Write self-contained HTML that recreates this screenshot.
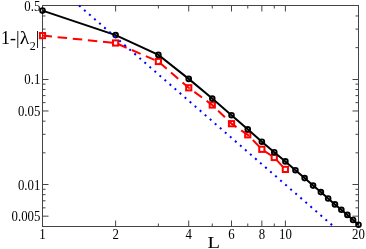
<!DOCTYPE html>
<html><head><meta charset="utf-8"><title>plot</title>
<style>html,body{margin:0;padding:0;background:#fff;}body{width:366px;height:249px;position:relative;overflow:hidden;font-family:"Liberation Serif",serif;}</style></head>
<body>
<svg width="366" height="249" viewBox="0 0 366 249" style="position:absolute;left:0;top:0;will-change:transform;opacity:0.999">
<rect x="0" y="0" width="366" height="249" fill="#fff"/>
<g stroke="#444" stroke-width="1" fill="none" shape-rendering="crispEdges">
<rect x="42.5" y="5.5" width="316.0" height="221.0"/>
</g>
<g stroke="#444" stroke-width="1" fill="none">
<path d="M115.62 226.5 v-6 M115.62 5.5 v6"/>
<path d="M158.39 226.5 v-3 M158.39 5.5 v3"/>
<path d="M188.73 226.5 v-6 M188.73 5.5 v6"/>
<path d="M212.27 226.5 v-3 M212.27 5.5 v3"/>
<path d="M231.50 226.5 v-6 M231.50 5.5 v6"/>
<path d="M247.76 226.5 v-3 M247.76 5.5 v3"/>
<path d="M261.85 226.5 v-6 M261.85 5.5 v6"/>
<path d="M274.27 226.5 v-3 M274.27 5.5 v3"/>
<path d="M285.38 226.5 v-6 M285.38 5.5 v6"/>
<path d="M42.5 15.96 h3 M358.5 15.96 h-3"/>
<path d="M42.5 29.11 h3 M358.5 29.11 h-3"/>
<path d="M42.5 47.63 h3 M358.5 47.63 h-3"/>
<path d="M42.5 79.50 h6 M358.5 79.50 h-6"/>
<path d="M42.5 84.11 h3 M358.5 84.11 h-3"/>
<path d="M42.5 89.49 h3 M358.5 89.49 h-3"/>
<path d="M42.5 95.60 h3 M358.5 95.60 h-3"/>
<path d="M42.5 102.64 h3 M358.5 102.64 h-3"/>
<path d="M42.5 110.97 h6 M358.5 110.97 h-6"/>
<path d="M42.5 121.16 h3 M358.5 121.16 h-3"/>
<path d="M42.5 134.31 h3 M358.5 134.31 h-3"/>
<path d="M42.5 152.83 h3 M358.5 152.83 h-3"/>
<path d="M42.5 184.50 h6 M358.5 184.50 h-6"/>
<path d="M42.5 189.31 h3 M358.5 189.31 h-3"/>
<path d="M42.5 194.69 h3 M358.5 194.69 h-3"/>
<path d="M42.5 200.80 h3 M358.5 200.80 h-3"/>
<path d="M42.5 207.84 h3 M358.5 207.84 h-3"/>
<path d="M42.5 216.17 h6 M358.5 216.17 h-6"/>
</g>
<clipPath id="c"><rect x="38.5" y="5.0" width="324.0" height="225.0"/></clipPath>
<polyline points="42.50,35.6 115.62,43.0 158.39,61.5 188.73,87.8 212.27,105.0 231.50,123.7 247.76,134.8 261.85,149.3 274.27,157.5 285.38,169.4" fill="none" stroke="#f00" stroke-width="2" stroke-dasharray="9.5 5.7" stroke-dashoffset="0"/>
<rect x="39.90" y="33.00" width="5.2" height="5.2" fill="none" stroke="#f00" stroke-width="2"/>
<rect x="113.02" y="40.40" width="5.2" height="5.2" fill="none" stroke="#f00" stroke-width="2"/>
<rect x="155.79" y="58.90" width="5.2" height="5.2" fill="none" stroke="#f00" stroke-width="2"/>
<rect x="186.13" y="85.20" width="5.2" height="5.2" fill="none" stroke="#f00" stroke-width="2"/>
<rect x="209.67" y="102.40" width="5.2" height="5.2" fill="none" stroke="#f00" stroke-width="2"/>
<rect x="228.90" y="121.10" width="5.2" height="5.2" fill="none" stroke="#f00" stroke-width="2"/>
<rect x="245.16" y="132.20" width="5.2" height="5.2" fill="none" stroke="#f00" stroke-width="2"/>
<rect x="259.25" y="146.70" width="5.2" height="5.2" fill="none" stroke="#f00" stroke-width="2"/>
<rect x="271.67" y="154.90" width="5.2" height="5.2" fill="none" stroke="#f00" stroke-width="2"/>
<rect x="282.78" y="166.80" width="5.2" height="5.2" fill="none" stroke="#f00" stroke-width="2"/>
<polyline points="42.50,10.6 115.62,35.1 158.39,54.9 188.73,78.9 212.27,98.6 231.50,115.2 247.76,129.3 261.85,141.7 274.27,152.2 285.38,161.4 295.44,170.2 304.62,178.1 313.06,185.6 320.88,192.1 328.15,198.5 334.96,204.4 341.36,209.8 347.39,214.9 353.09,220.0 358.50,224.7" fill="none" stroke="#000" stroke-width="2"/>
<circle cx="42.50" cy="10.6" r="2.35" fill="none" stroke="#000" stroke-width="1.9"/>
<circle cx="115.62" cy="35.1" r="2.35" fill="none" stroke="#000" stroke-width="1.9"/>
<circle cx="158.39" cy="54.9" r="2.35" fill="none" stroke="#000" stroke-width="1.9"/>
<circle cx="188.73" cy="78.9" r="2.35" fill="none" stroke="#000" stroke-width="1.9"/>
<circle cx="212.27" cy="98.6" r="2.35" fill="none" stroke="#000" stroke-width="1.9"/>
<circle cx="231.50" cy="115.2" r="2.35" fill="none" stroke="#000" stroke-width="1.9"/>
<circle cx="247.76" cy="129.3" r="2.35" fill="none" stroke="#000" stroke-width="1.9"/>
<circle cx="261.85" cy="141.7" r="2.35" fill="none" stroke="#000" stroke-width="1.9"/>
<circle cx="274.27" cy="152.2" r="2.35" fill="none" stroke="#000" stroke-width="1.9"/>
<circle cx="285.38" cy="161.4" r="2.35" fill="none" stroke="#000" stroke-width="1.9"/>
<circle cx="295.44" cy="170.2" r="2.35" fill="none" stroke="#000" stroke-width="1.9"/>
<circle cx="304.62" cy="178.1" r="2.35" fill="none" stroke="#000" stroke-width="1.9"/>
<circle cx="313.06" cy="185.6" r="2.35" fill="none" stroke="#000" stroke-width="1.9"/>
<circle cx="320.88" cy="192.1" r="2.35" fill="none" stroke="#000" stroke-width="1.9"/>
<circle cx="328.15" cy="198.5" r="2.35" fill="none" stroke="#000" stroke-width="1.9"/>
<circle cx="334.96" cy="204.4" r="2.35" fill="none" stroke="#000" stroke-width="1.9"/>
<circle cx="341.36" cy="209.8" r="2.35" fill="none" stroke="#000" stroke-width="1.9"/>
<circle cx="347.39" cy="214.9" r="2.35" fill="none" stroke="#000" stroke-width="1.9"/>
<circle cx="353.09" cy="220.0" r="2.35" fill="none" stroke="#000" stroke-width="1.9"/>
<circle cx="358.50" cy="224.7" r="2.35" fill="none" stroke="#000" stroke-width="1.9"/>
<path d="M79.06 5.55 L333.71 226.55" fill="none" stroke="#00f" stroke-width="2" stroke-dasharray="2 4.66" stroke-dashoffset="0"/>
<g font-family="Liberation Serif, serif" fill="#000">
<text transform="translate(40.4 10.70) scale(0.93 1)" font-size="13.8" text-anchor="end">0.5</text>
<text transform="translate(40.4 84.00) scale(0.93 1)" font-size="13.8" text-anchor="end">0.1</text>
<text transform="translate(40.4 116.27) scale(0.93 1)" font-size="13.8" text-anchor="end">0.05</text>
<text transform="translate(40.4 189.80) scale(0.93 1)" font-size="13.8" text-anchor="end">0.01</text>
<text transform="translate(40.4 221.07) scale(0.93 1)" font-size="13.8" text-anchor="end">0.005</text>
<text transform="translate(42.50 238.5) scale(0.93 1)" font-size="13.8" text-anchor="middle">1</text>
<text transform="translate(115.62 238.5) scale(0.93 1)" font-size="13.8" text-anchor="middle">2</text>
<text transform="translate(188.73 238.5) scale(0.93 1)" font-size="13.8" text-anchor="middle">4</text>
<text transform="translate(231.50 238.5) scale(0.93 1)" font-size="13.8" text-anchor="middle">6</text>
<text transform="translate(261.85 238.5) scale(0.93 1)" font-size="13.8" text-anchor="middle">8</text>
<text transform="translate(285.38 238.5) scale(0.93 1)" font-size="13.8" text-anchor="middle">10</text>
<text transform="translate(358.50 238.5) scale(0.93 1)" font-size="13.8" text-anchor="middle">20</text>
<text transform="translate(207.4 248) scale(1.19 1)" font-size="17.2">L</text>
<text x="1.1" y="43.7" font-size="18">1-|</text>
<text transform="translate(19.8 43.7) scale(1.1 1)" font-size="18">λ</text>
<text x="29.7" y="50.4" font-size="12">2</text>
<text x="35.7" y="43.7" font-size="18">|</text>
</g>
</svg>
</body></html>
